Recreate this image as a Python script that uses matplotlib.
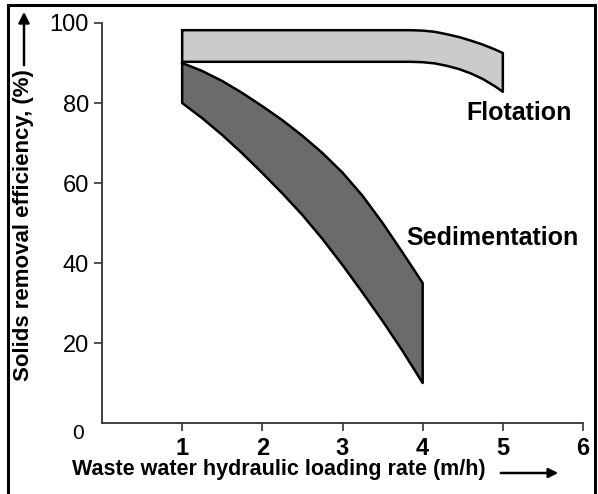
import matplotlib
matplotlib.use("Agg")
import matplotlib.pyplot as plt
from matplotlib.patches import FancyArrowPatch
from matplotlib.lines import Line2D
import numpy as np

plt.rcParams['font.family'] = ['Liberation Sans', 'DejaVu Sans']

# Flotation band (upper and lower edges)
flot_x = [1.0, 3.7, 3.85, 4.0, 4.15, 4.3, 4.45, 4.6, 4.75, 4.9, 5.0]
flot_upper = [98.2, 98.2, 98.2, 98.1, 97.8, 97.2, 96.5, 95.6, 94.6, 93.4, 92.5]
flot_lower = [90.3, 90.3, 90.3, 90.2, 89.9, 89.3, 88.5, 87.4, 86.0, 84.2, 82.8]

# Sedimentation band
sed_x = [1.0, 1.25, 1.5, 1.75, 2.0, 2.25, 2.5, 2.75, 3.0, 3.25, 3.5, 3.75, 4.0]
sed_upper = [90.0, 88.0, 85.5, 82.5, 79.2, 75.7, 71.8, 67.5, 62.6, 56.8, 50.0, 42.6, 35.0]
sed_lower = [80.0, 76.2, 72.0, 67.4, 62.5, 57.4, 52.0, 46.0, 39.5, 32.6, 25.5, 18.0, 10.0]

x_ticks = [1, 2, 3, 4, 5, 6]
y_ticks = [20, 40, 60, 80, 100]

W, H = 598, 494
fig = plt.figure(figsize=(W / 100, H / 100), dpi=100)
ax = fig.add_axes([102 / W, 71 / H, 481 / W, 400 / H])
ax.set_xlim(0, 6)
ax.set_ylim(0, 100)

def band(x, up, lo, color):
    x = np.asarray(x); up = np.asarray(up); lo = np.asarray(lo)
    px = np.concatenate([x, x[::-1], [x[0]]])
    py = np.concatenate([up, lo[::-1], [up[0]]])
    ax.fill(px, py, facecolor=color, edgecolor='none', zorder=2)
    ax.plot(px, py, color='black', lw=1.8, zorder=3, solid_joinstyle='round')

band(flot_x, flot_upper, flot_lower, '#cbcbcb')
band(sed_x, sed_upper, sed_lower, '#6b6b6b')

ax.text(4.55, 75.75, 'Flotation', fontsize=18, fontweight='bold', ha='left', va='baseline')
ax.text(3.8, 44.5, 'Sedimentation', fontsize=18, fontweight='bold', ha='left', va='baseline')

for s in ['top', 'right']:
    ax.spines[s].set_visible(False)
for s in ['left', 'bottom']:
    ax.spines[s].set_color('#333333')
    ax.spines[s].set_linewidth(1.3)

ax.set_xticks(x_ticks)
ax.set_xticklabels([str(v) for v in x_ticks], fontsize=17, fontweight='bold')
ax.set_yticks(y_ticks)
ax.set_yticklabels([str(v) for v in y_ticks], fontsize=17)
ax.tick_params(axis='both', direction='out', length=5.5, width=1.2, color='#333333')
ax.tick_params(axis='x', pad=4.5)
ax.tick_params(axis='y', pad=4)

# origin label
fig.text(78 / W, 1 - 433.5 / H, '0', fontsize=15, ha='center', va='center')

# axis labels with arrows
fig.text(24 / W, 1 - 225 / H, 'Solids removal efficiency, (%)', rotation=90,
         fontsize=16, fontweight='bold', ha='center', va='center')
fig.add_artist(FancyArrowPatch((24 / W, 1 - 68 / H), (24 / W, 1 - 9 / H),
                               transform=fig.transFigure, arrowstyle='-|>',
                               mutation_scale=16, lw=1.8, color='black'))
fig.text(72 / W, 1 - 469 / H, 'Waste water hydraulic loading rate (m/h)',
         fontsize=15.5, fontweight='bold', ha='left', va='center')
fig.add_artist(FancyArrowPatch((498 / W, 1 - 473 / H), (561 / W, 1 - 473 / H),
                               transform=fig.transFigure, arrowstyle='-|>',
                               mutation_scale=14, lw=1.8, color='black'))

# outer frame (left, top, right)
for (xs, ys) in [([8 / W, 8 / W], [0, 1 - 5 / H]),
                 ([8 / W, 595 / W], [1 - 5 / H, 1 - 5 / H]),
                 ([595 / W, 595 / W], [1 - 5 / H, 0])]:
    fig.add_artist(Line2D(xs, ys, transform=fig.transFigure, color='black', lw=2.2))

fig.savefig('out.png', dpi=100)
